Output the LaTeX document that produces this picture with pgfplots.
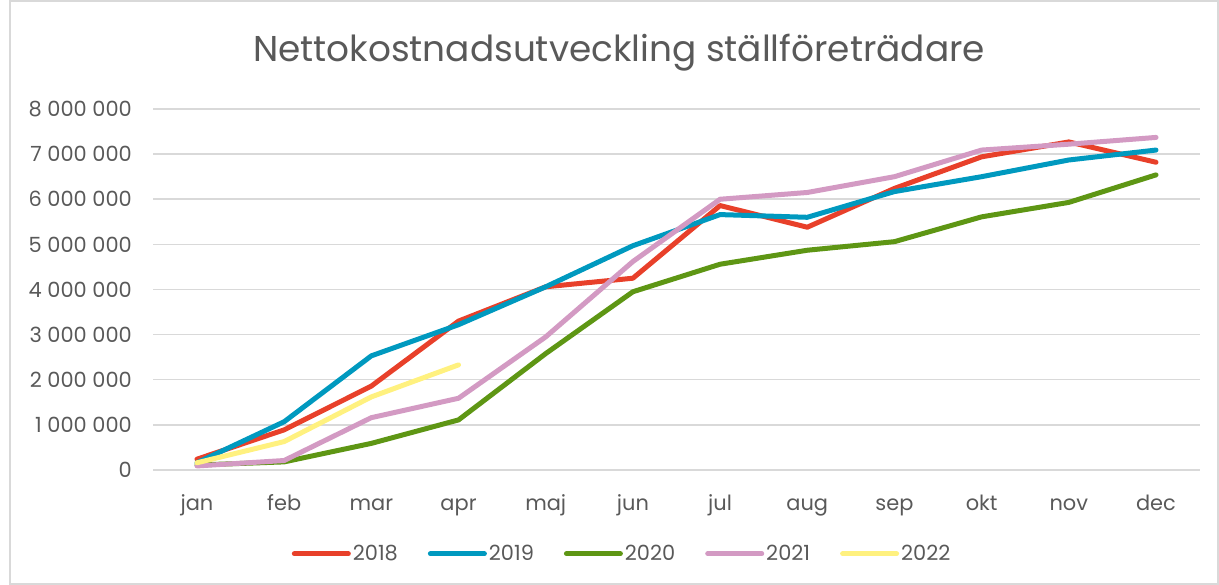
\documentclass[border=0pt]{standalone}
\usepackage{pgfplots}
\pgfplotsset{compat=1.18}
\usepackage{fontspec}
\setmainfont{Poppins}
\definecolor{cred}{HTML}{E8402A}
\definecolor{cblue}{HTML}{0099BF}
\definecolor{cgreen}{HTML}{5E9614}
\definecolor{cpink}{HTML}{D39AC3}
\definecolor{cyellow}{HTML}{FFF17F}
\definecolor{cgrid}{HTML}{D9D9D9}
\definecolor{ctext}{HTML}{595959}
\begin{document}
\begin{tikzpicture}
\path[use as bounding box] (0bp,0bp) rectangle (1219bp,585bp);
\draw[cgrid, line width=1.5bp] (10bp,1bp) rectangle (1218bp,584bp);
\node[text=ctext, font=\fontsize{36}{42}\selectfont] at (619bp,532bp) {Nettokostnadsutveckling ställföreträdare};
\begin{axis}[
  at={(153.4bp,115bp)}, anchor=south west,
  scale only axis, width=1046.2bp, height=361bp,
  xmin=-0.5, xmax=11.5, ymin=0, ymax=8000000,
  xtick={0,...,11},
  xticklabels={jan,feb,mar,apr,maj,jun,jul,aug,sep,okt,nov,dec},
  ytick={0,1000000,2000000,3000000,4000000,5000000,6000000,7000000,8000000},
  yticklabels={0,1 000 000,2 000 000,3 000 000,4 000 000,5 000 000,6 000 000,7 000 000,8 000 000},
  scaled y ticks=false,
  axis line style={draw=none},
  tick style={draw=none},
  ymajorgrids, grid style={color=cgrid, line width=1.5bp},
  tick label style={text=ctext, font=\fontsize{21}{25}\selectfont},
  yticklabel style={xshift=-18bp},
  xticklabel style={anchor=base, yshift=-40bp},
  every axis plot/.append style={line width=5bp, line join=round, line cap=round},
  legend columns=5,
  legend style={at={(0.448,-0.232)}, anchor=center, draw=none, fill=none,
    font=\fontsize{21}{25}\selectfont, text=ctext,
    /tikz/every even column/.append style={column sep=28bp},
    inner sep=0pt},
  legend cell align=left,
  legend image code/.code={\draw[#1, line cap=round] (0bp,0bp) -- (54bp,0bp);},
]
\addplot[cred] coordinates {(0,240000)(1,890000)(2,1860000)(3,3300000)(4,4060000)(5,4250000)(6,5860000)(7,5380000)(8,6240000)(9,6940000)(10,7270000)(11,6820000)};
\addlegendentry{2018}
\addplot[cblue] coordinates {(0,160000)(1,1070000)(2,2530000)(3,3220000)(4,4060000)(5,4970000)(6,5660000)(7,5600000)(8,6170000)(9,6500000)(10,6870000)(11,7090000)};
\addlegendentry{2019}
\addplot[cgreen] coordinates {(0,110000)(1,180000)(2,590000)(3,1110000)(4,2580000)(5,3950000)(6,4560000)(7,4870000)(8,5060000)(9,5610000)(10,5930000)(11,6540000)};
\addlegendentry{2020}
\addplot[cpink] coordinates {(0,90000)(1,210000)(2,1160000)(3,1590000)(4,2950000)(5,4620000)(6,6000000)(7,6150000)(8,6500000)(9,7090000)(10,7220000)(11,7370000)};
\addlegendentry{2021}
\addplot[cyellow] coordinates {(0,160000)(1,630000)(2,1620000)(3,2330000)};
\addlegendentry{2022}
\end{axis}
\end{tikzpicture}
\end{document}
